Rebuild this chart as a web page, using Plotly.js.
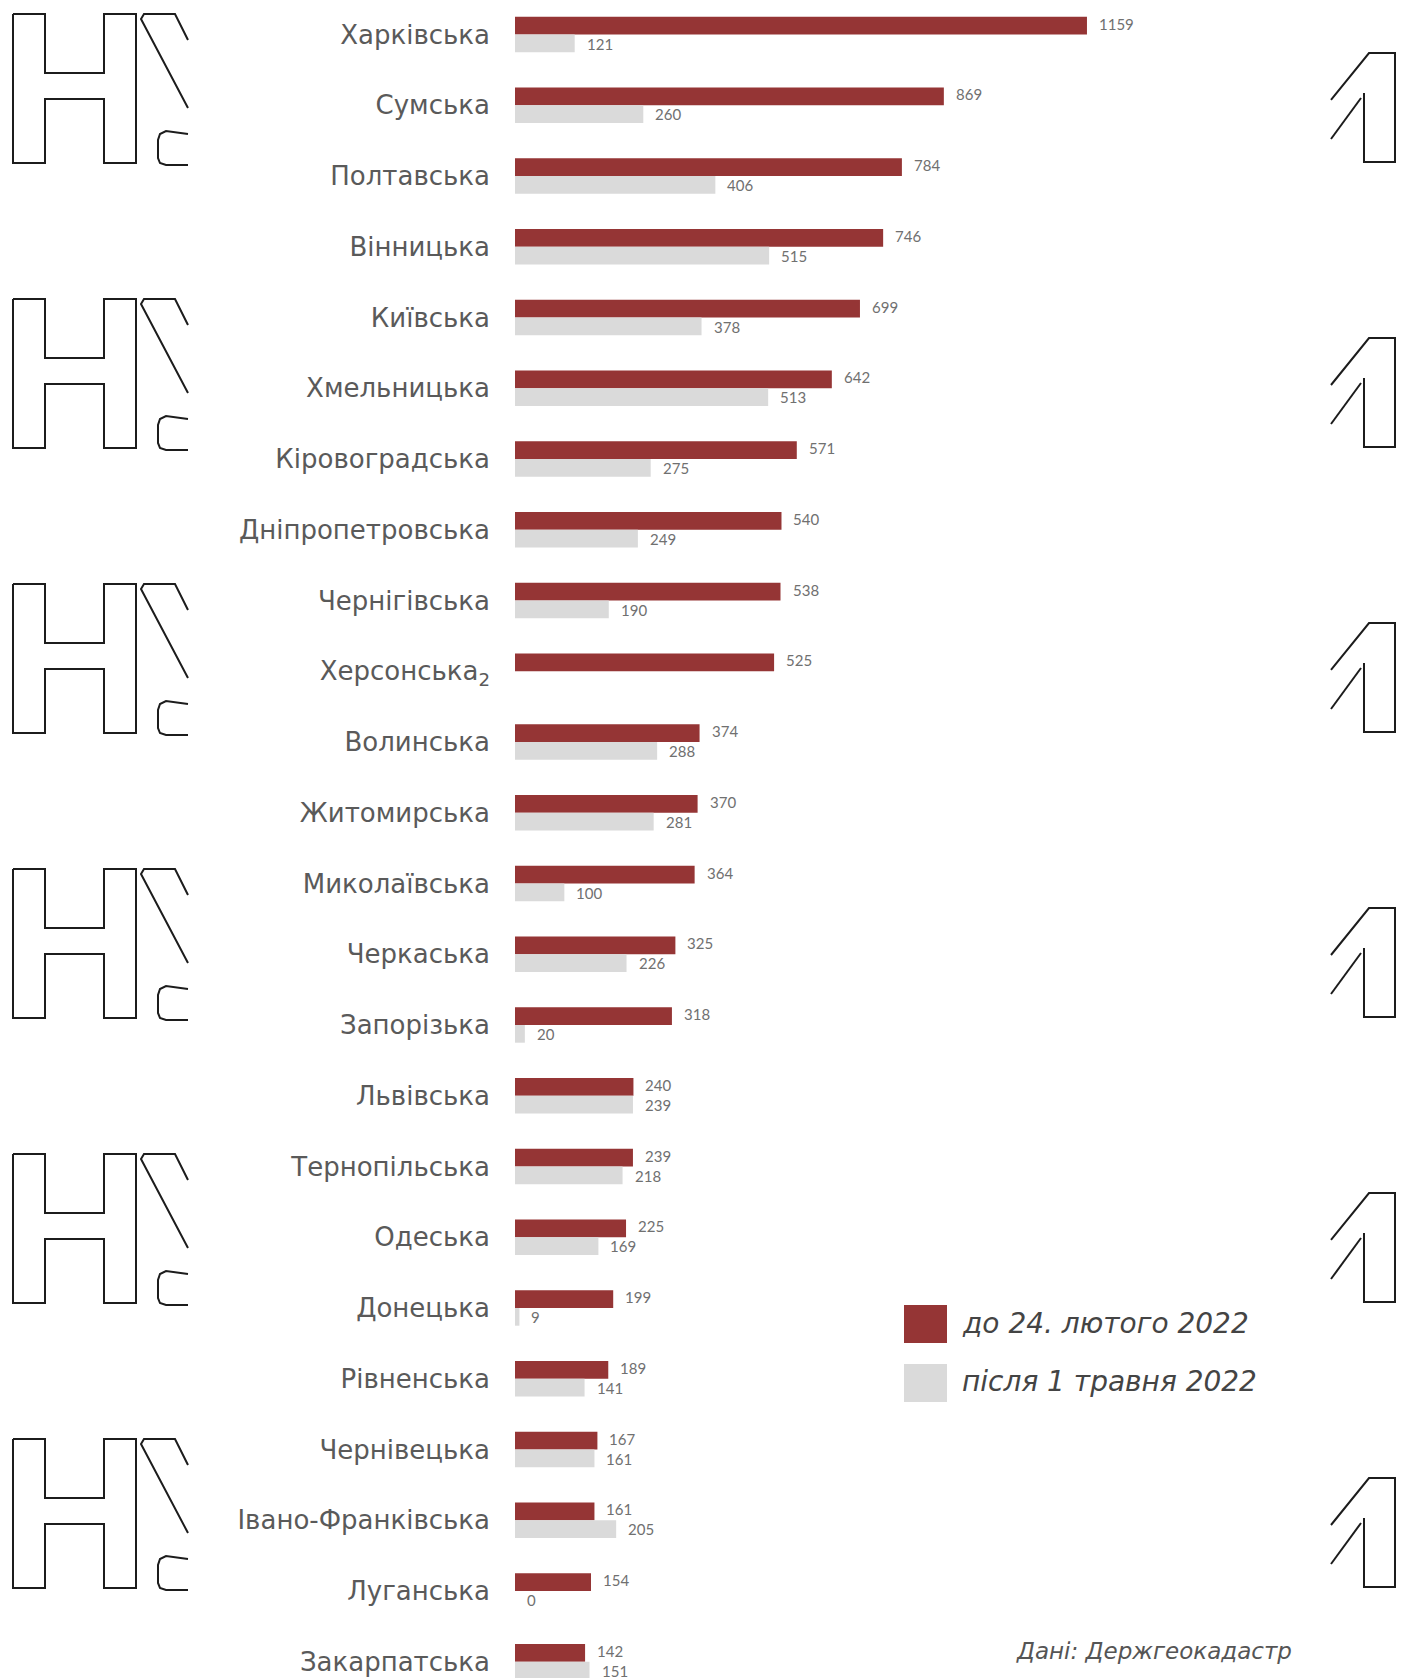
<!DOCTYPE html>
<html>
<head>
<meta charset="utf-8">
<script src="https://cdn.plot.ly/plotly-3.0.1.min.js"></script>
<style>
  html, body { margin: 0; padding: 0; background: #ffffff; }
  #chart { width: 1411px; height: 1678px; }
</style>
</head>
<body>
<div id="chart"></div>
<script>
// ---------------- DATA ----------------
const categories = [
  'Харківська', 'Сумська', 'Полтавська', 'Вінницька', 'Київська', 'Хмельницька',
  'Кіровоградська', 'Дніпропетровська', 'Чернігівська', 'Херсонська', 'Волинська',
  'Житомирська', 'Миколаївська', 'Черкаська', 'Запорізька', 'Львівська',
  'Тернопільська', 'Одеська', 'Донецька', 'Рівненська', 'Чернівецька',
  'Івано-Франківська', 'Луганська', 'Закарпатська'
];
const tickLabels = categories.map(c => c === 'Херсонська' ? 'Херсонська<sub>2</sub>' : c);
const beforeWar = [1159, 869, 784, 746, 699, 642, 571, 540, 538, 525, 374, 370, 364, 325, 318, 240, 239, 225, 199, 189, 167, 161, 154, 142];
const afterMay = [121, 260, 406, 515, 378, 513, 275, 249, 190, null, 288, 281, 100, 226, 20, 239, 218, 169, 9, 141, 161, 205, 0, 151];
const seriesNames = ['до 24. лютого 2022', 'після 1 травня 2022'];
const sourceText = 'Дані: Держгеокадастр';

// ---------------- LAYOUT HELPERS ----------------
const W = 1411, H = 1678;
const ML = 515, MR = 0, MT = 0, MB = 0;
const PW = W - ML - MR, PH = H - MT - MB;
const px = x => (x - ML) / PW;            // pixel -> paper x
const py = y => 1 - (y - MT) / PH;        // pixel -> paper y

const RED = '#953535';
const GREY = '#dadada';

function pathFrom(cmds, dy) {
  return cmds.map(c => c[0] + px(c[1]).toFixed(5) + ',' + py(c[2] + dy).toFixed(5)).join(' ');
}

const leftH = [['M',13,14],['L',45,14],['L',45,73],['L',104,73],['L',104,14],['L',136,14],['L',136,163],['L',104,163],['L',104,99],['L',45,99],['L',45,163],['L',13,163],['L',13,14]];
const leftSlash = [['M',188,40],['L',175,14],['L',144,14],['L',141,19],['L',188,108]];
const leftC = [['M',188,134],['L',166,131],['L',160,134],['L',158,140],['L',158,158],['L',160,163],['L',166,165],['L',188,165]];
const rightOne = [['M',1331,100],['L',1369,53],['L',1395,53],['L',1395,162],['L',1364,162],['L',1364,93]];
const rightDiag = [['M',1361,98],['L',1331,139]];
const logoOffsets = [0, 285, 570, 855, 1140, 1425];

const shapes = [];
logoOffsets.forEach(dy => {
  [leftH, leftSlash, leftC, rightOne, rightDiag].forEach(p => {
    shapes.push({
      type: 'path', xref: 'paper', yref: 'paper',
      path: pathFrom(p, dy),
      line: { color: '#1c1c1c', width: 2 },
      layer: 'above'
    });
  });
});

// custom legend squares
shapes.push({ type: 'rect', xref: 'paper', yref: 'paper',
  x0: px(904), x1: px(947), y0: py(1343), y1: py(1305),
  fillcolor: RED, line: { width: 0 } });
shapes.push({ type: 'rect', xref: 'paper', yref: 'paper',
  x0: px(904), x1: px(947), y0: py(1402), y1: py(1364),
  fillcolor: GREY, line: { width: 0 } });

// ---------------- ANNOTATIONS ----------------
const valueFont = { family: 'Lato, "DejaVu Sans", sans-serif', size: 15, color: '#707070' };
const annotations = [];
categories.forEach((c, i) => {
  if (beforeWar[i] !== null) {
    annotations.push({ x: beforeWar[i], y: c, xref: 'x', yref: 'y', text: String(beforeWar[i]),
      showarrow: false, xanchor: 'left', yanchor: 'middle', xshift: 10, yshift: 11, font: valueFont });
  }
  if (afterMay[i] !== null) {
    annotations.push({ x: afterMay[i], y: c, xref: 'x', yref: 'y', text: String(afterMay[i]),
      showarrow: false, xanchor: 'left', yanchor: 'middle', xshift: 10, yshift: -9, font: valueFont });
  }
});

const legendFont = { family: '"DejaVu Sans", sans-serif', size: 28, color: '#444444' };
annotations.push({ xref: 'paper', yref: 'paper', x: px(960), y: py(1323), text: '<i>' + seriesNames[0] + '</i>',
  showarrow: false, xanchor: 'left', yanchor: 'middle', font: legendFont });
annotations.push({ xref: 'paper', yref: 'paper', x: px(960), y: py(1381), text: '<i>' + seriesNames[1] + '</i>',
  showarrow: false, xanchor: 'left', yanchor: 'middle', font: legendFont });
annotations.push({ xref: 'paper', yref: 'paper', x: px(1014), y: py(1651), text: '<i>' + sourceText + '</i>',
  showarrow: false, xanchor: 'left', yanchor: 'middle',
  font: { family: '"DejaVu Sans", sans-serif', size: 23, color: '#555555' } });

// ---------------- TRACES ----------------
const traces = [
  { type: 'bar', orientation: 'h', name: seriesNames[0], y: categories, x: beforeWar,
    marker: { color: RED }, hoverinfo: 'skip', showlegend: false },
  { type: 'bar', orientation: 'h', name: seriesNames[1], y: categories, x: afterMay,
    marker: { color: GREY }, hoverinfo: 'skip', showlegend: false }
];

const pitch = 70.75;
const topVal = -34.5 / pitch;
const layout = {
  width: W, height: H,
  margin: { l: ML, r: MR, t: MT, b: MB, pad: 0 },
  paper_bgcolor: '#ffffff', plot_bgcolor: '#ffffff',
  barmode: 'group', bargap: 0.5, bargroupgap: 0.0,
  showlegend: false,
  xaxis: { range: [0, PW / 0.4935], visible: false, showgrid: false, zeroline: false, fixedrange: true },
  yaxis: {
    type: 'category', categoryorder: 'array', categoryarray: categories,
    range: [topVal + PH / pitch, topVal],
    tickmode: 'array', tickvals: categories, ticktext: tickLabels,
    showgrid: false, zeroline: false, showline: false,
    ticks: '', ticklabelstandoff: 24,
    tickfont: { family: '"DejaVu Sans", sans-serif', size: 26, color: '#5a5a5a' }
  },
  shapes: shapes,
  annotations: annotations
};

Plotly.newPlot('chart', traces, layout, { displayModeBar: false, staticPlot: true });
</script>
</body>
</html>
